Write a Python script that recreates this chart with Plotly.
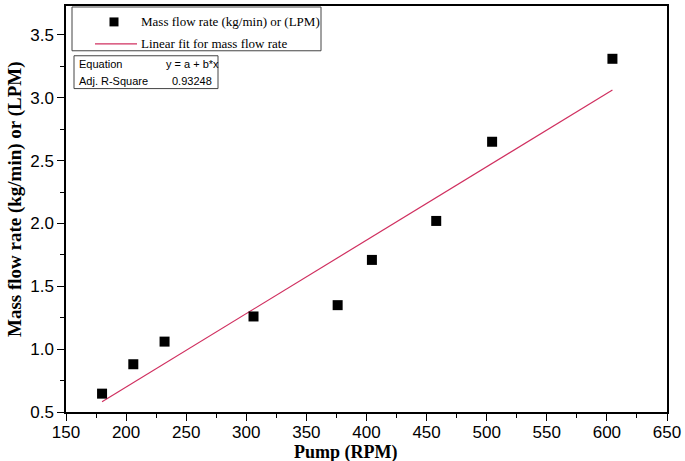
import numpy as np
import plotly.graph_objects as go

# Data
pump_rpm = [180, 206, 232, 306, 376, 404.5, 458, 504.5, 604.6]
mass_flow = [0.646, 0.88, 1.06, 1.26, 1.35, 1.71, 2.02, 2.65, 3.31]
x_ticks = [150, 200, 250, 300, 350, 400, 450, 500, 550, 600, 650]
y_ticks = [0.5, 1.0, 1.5, 2.0, 2.5, 3.0, 3.5]
series_name = "Mass flow rate (kg/min) or (LPM)"
fit_name = "Linear fit for mass flow rate"
stats_rows = [("Equation", "y = a + b*x"), ("Adj. R-Square", "0.93248")]

# Linear fit of the data
slope, intercept = np.polyfit(pump_rpm, mass_flow, 1)
fit_x = [min(pump_rpm), max(pump_rpm)]
fit_y = [intercept + slope * v for v in fit_x]

W, H = 685, 461
L, R, T, B = 66, 18, 4, 49
PW, PH = W - L - R, H - T - B


def px(x):
    return (x - L) / PW


def py(y):
    return (H - B - y) / PH


fit_color = "#d03060"
serif = "Liberation Serif"
sans = "Liberation Sans"

fig = go.Figure()
fig.add_trace(go.Scatter(x=fit_x, y=fit_y, mode="lines",
                         line=dict(color=fit_color, width=1.2),
                         name=fit_name, showlegend=False))
fig.add_trace(go.Scatter(x=pump_rpm, y=mass_flow, mode="markers",
                         marker=dict(symbol="square", size=10, color="black"),
                         name=series_name, showlegend=False))

shapes = []
annotations = []
# legend box
shapes.append(dict(type="rect", xref="paper", yref="paper",
                   x0=px(72), x1=px(321), y0=py(49), y1=py(5),
                   line=dict(color="#444", width=1), fillcolor="white", layer="above"))
shapes.append(dict(type="rect", xref="paper", yref="paper",
                   x0=px(109.5), x1=px(118.5), y0=py(24.5), y1=py(15.5),
                   line=dict(width=0), fillcolor="black", layer="above"))
shapes.append(dict(type="line", xref="paper", yref="paper",
                   x0=px(95), x1=px(137), y0=py(42), y1=py(42),
                   line=dict(color=fit_color, width=1.2), layer="above"))
annotations.append(dict(xref="paper", yref="paper", x=px(139), y=py(20),
                        xanchor="left", yanchor="middle", showarrow=False,
                        text=series_name, font=dict(family=serif, size=13, color="black")))
annotations.append(dict(xref="paper", yref="paper", x=px(139), y=py(42),
                        xanchor="left", yanchor="middle", showarrow=False,
                        text=fit_name, font=dict(family=serif, size=13, color="black")))
# stats table
shapes.append(dict(type="rect", xref="paper", yref="paper",
                   x0=px(74), x1=px(218), y0=py(87), y1=py(54),
                   line=dict(color="#444", width=1), fillcolor="white", layer="above"))
for i, (k, v) in enumerate(stats_rows):
    yy = 62 + 17 * i
    annotations.append(dict(xref="paper", yref="paper", x=px(77), y=py(yy),
                            xanchor="left", yanchor="middle", showarrow=False,
                            text=k, font=dict(family=sans, size=11, color="black")))
    annotations.append(dict(xref="paper", yref="paper", x=px(192), y=py(yy),
                            xanchor="center", yanchor="middle", showarrow=False,
                            text=v, font=dict(family=sans, size=11, color="black")))
# axis titles
annotations.append(dict(xref="paper", yref="paper", x=px(15), y=py(198),
                        xanchor="center", yanchor="middle", showarrow=False, textangle=-90,
                        text="<b>Mass flow rate (kg/min) or (LPM)</b>",
                        font=dict(family=serif, size=19, color="black")))
annotations.append(dict(xref="paper", yref="paper", x=px(345), y=py(453),
                        xanchor="center", yanchor="middle", showarrow=False,
                        text="<b>Pump (RPM)</b>",
                        font=dict(family=serif, size=18, color="black")))

axis_common = dict(showline=True, linecolor="black", linewidth=1.5, mirror=True,
                   ticks="outside", ticklen=7, tickwidth=1.3, tickcolor="black",
                   showgrid=False, zeroline=False,
                   tickfont=dict(family=sans, size=17, color="black"))

fig.update_layout(
    width=W, height=H,
    margin=dict(l=L, r=R, t=T, b=B, pad=0),
    paper_bgcolor="white", plot_bgcolor="white",
    shapes=shapes, annotations=annotations,
    xaxis=dict(range=[150, 650], tickvals=x_ticks,
               ticktext=[str(v) for v in x_ticks], ticklabelstandoff=-3,
               minor=dict(dtick=25, tick0=150, ticks="outside", ticklen=4, tickcolor="black", tickwidth=1.2),
               **axis_common),
    yaxis=dict(range=[0.5, 3.73], tickvals=y_ticks,
               ticktext=[f"{v:.1f}" for v in y_ticks],
               minor=dict(dtick=0.25, tick0=0.5, ticks="outside", ticklen=4, tickcolor="black", tickwidth=1.2),
               **axis_common),
)

fig.write_html("out.html", config={"displayModeBar": False},
               post_script="document.body.style.margin='0px';document.body.style.padding='0px';")
